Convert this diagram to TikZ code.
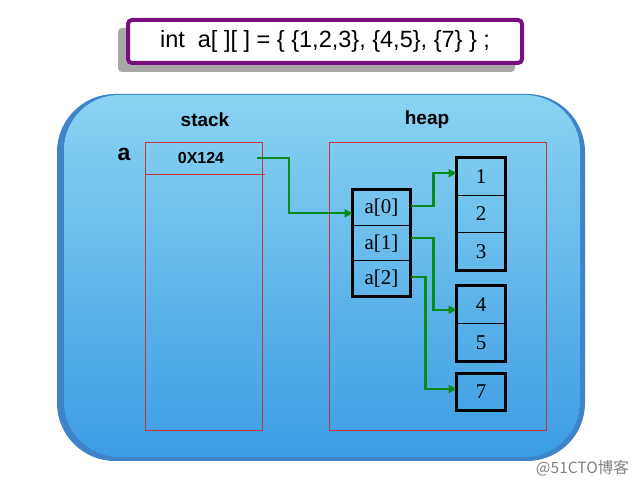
\documentclass[tikz,border=0pt]{standalone}
\usepackage{fontspec}
\setmainfont{Liberation Serif}
\setsansfont{Liberation Sans}
\newfontfamily\cjkfont{Noto Sans CJK SC}
\usetikzlibrary{arrows.meta,calc}
\definecolor{darkblue}{HTML}{3F83C8}
\definecolor{topblue}{HTML}{8AD3F3}
\definecolor{botblue}{HTML}{3C9CE2}
\definecolor{redline}{HTML}{C8323A}
\definecolor{purp}{HTML}{7A0E80}
\definecolor{grn}{HTML}{0A8A1A}
\definecolor{shadowgray}{HTML}{A8A8A8}
\tikzset{
  cell/.style={draw=black, line width=1pt, minimum width=#1, inner sep=0pt, font=\fontsize{21}{21}\selectfont},
  cell/.default=48pt,
  outerbox/.style={draw=black, line width=3pt},
  memarea/.style={draw=redline, line width=0.8pt},
  arr/.style={draw=grn, line width=2.3pt, -{Triangle[length=8pt,width=8pt]}},
  lbl/.style={font=\sffamily\bfseries\fontsize{19}{19}\selectfont},
}
\begin{document}
\begin{tikzpicture}[x=1pt,y=-1pt]
\useasboundingbox (0,0) rectangle (638,486);
% title
\fill[shadowgray, rounded corners=4pt] (118,28) rectangle (515,72);
\node[draw=purp, line width=4pt, fill=white, rounded corners=4pt, minimum width=394pt, minimum height=43pt, inner sep=0pt,
  font=\sffamily\fontsize{23.5}{23.5}\selectfont] (title) at (325,41.5) {int\ \ a[ ][ ] = \{ \{1,2,3\}, \{4,5\}, \{7\} \} ;};
% big container
\fill[darkblue, rounded corners=58pt] (57,94) rectangle (585,461);
\shade[top color=topblue, bottom color=botblue, rounded corners=55pt] (64,95) rectangle (580,457);
% labels
\node[lbl] (stacklbl) at (205,120) {stack};
\node[lbl] (heaplbl) at (427,120) {heap};
\node[font=\sffamily\bfseries\fontsize{23}{23}\selectfont] (alab) at (124,154) {a};
% stack area
\draw[memarea] (145,142) rectangle (262,430);
\draw[memarea] (145,174) -- (265,174);
\node[font=\sffamily\bfseries\fontsize{16}{16}\selectfont] (ptr) at (201,157.5) {0X124};
\coordinate (p) at (257,158);
% heap area
\draw[memarea] (329,142.5) rectangle (546,430.5);
% a[] array
\node[cell=57pt, minimum height=35.3pt] (a0) at (381.5,207.8) {a[0]};
\node[cell=57pt, minimum height=35.3pt] (a1) at (381.5,243.2) {a[1]};
\node[cell=57pt, minimum height=35.3pt] (a2) at (381.5,278.5) {a[2]};
\draw[outerbox] (a0.north west) rectangle (a2.south east);
% row 1
\node[cell, minimum height=37.3pt] (c1) at (481,176.7) {1};
\node[cell, minimum height=37.3pt] (c2) at (481,214) {2};
\node[cell, minimum height=37.3pt] (c3) at (481,251.3) {3};
\draw[outerbox] (c1.north west) rectangle (c3.south east);
% row 2
\node[cell, minimum height=37.5pt] (c4) at (481,304.75) {4};
\node[cell, minimum height=37.5pt] (c5) at (481,342.25) {5};
\draw[outerbox] (c4.north west) rectangle (c5.south east);
% row 3
\node[cell, minimum height=36pt] (c7) at (481,392) {7};
\draw[outerbox] (c7.north west) rectangle (c7.south east);
% arrows
\draw[arr] (p) -- (289,158) |- ([yshift=-5.5pt]a0.west);
\draw[arr] ([yshift=2pt]a0.east) -- ++(23,0) |- ([yshift=3.5pt]c1.west);
\draw[arr] ([yshift=5pt]a1.east) -- ++(23,0) |- ([yshift=-5pt]c4.west);
\draw[arr] ([yshift=1.5pt]a2.east) -- ++(15,0) |- ([yshift=3pt]c7.west);
% watermark
\node[font=\cjkfont\fontsize{15.5}{15.5}\selectfont, text=gray, anchor=east, inner sep=0pt] (wm) at (629,468) {@51CTO博客};
\end{tikzpicture}
\end{document}
